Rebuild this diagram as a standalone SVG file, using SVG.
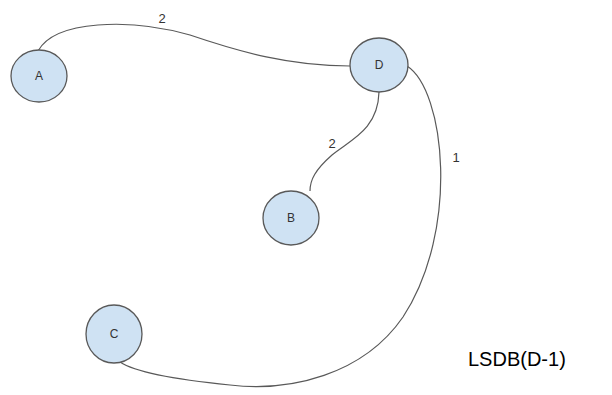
<svg xmlns="http://www.w3.org/2000/svg" width="612" height="395" viewBox="0 0 612 395">
<style>
.node{fill:#cfe2f3;stroke:#595959;stroke-width:1.3}
.lbl{font-family:"Liberation Sans",Arial,sans-serif;font-size:12px;fill:#333;text-anchor:middle}
.edge{fill:none;stroke:#595959;stroke-width:1.2}
.el{font-family:"Liberation Sans",Arial,sans-serif;font-size:13px;fill:#333;text-anchor:middle}
</style>
<rect width="612" height="395" fill="#fff"/>
<g id="connectors">
<path class="edge" d="M38,51 C55,20 130,18 190,35 C240,52 290,66 350,66"/>
<path class="edge" d="M379,92 C378,130 350,140 332,155 C315,170 310,180 310,191"/>
<path class="edge" d="M407,66 C445,90 460,230 403,317 C363,375 290,392 230,385 C180,380 135,372 120,362"/>
<text class="el" x="162" y="23">2</text>
<text class="el" x="332" y="148">2</text>
<text class="el" x="456" y="162">1</text>
</g>
<g id="A"><ellipse class="node" cx="39" cy="76" rx="28" ry="26"/><text class="lbl" x="39" y="80">A</text></g>
<g id="D"><ellipse class="node" cx="379" cy="65" rx="29" ry="27"/><text class="lbl" x="379" y="69">D</text></g>
<g id="B"><ellipse class="node" cx="291" cy="218" rx="28" ry="27"/><text class="lbl" x="291" y="222">B</text></g>
<g id="C"><ellipse class="node" cx="114" cy="334" rx="28" ry="29"/><text class="lbl" x="114" y="338">C</text></g>
<text x="468" y="366" font-family="Liberation Sans,Arial,sans-serif" font-size="20" fill="#000">LSDB(D-1)</text>
</svg>
